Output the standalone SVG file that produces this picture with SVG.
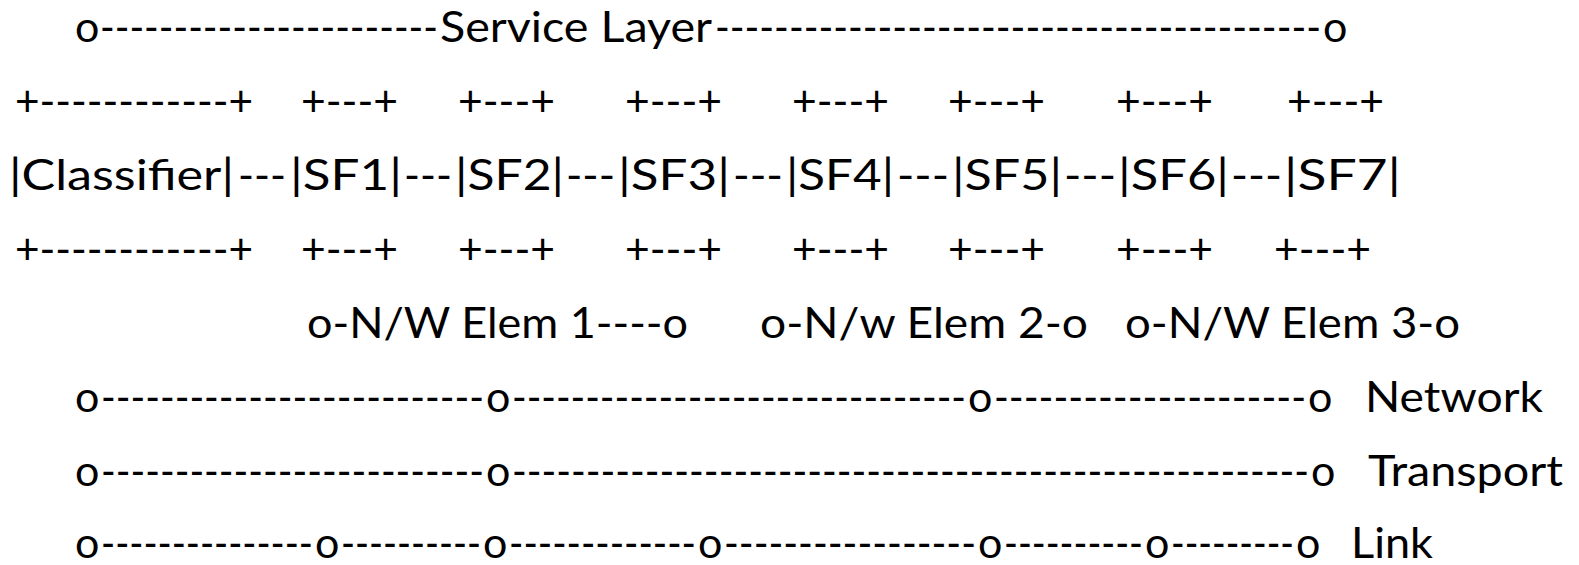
<svg xmlns="http://www.w3.org/2000/svg" width="1579" height="565" viewBox="0 0 1579 565">
<style>
.t{font-family:Lato,"Liberation Sans",sans-serif;font-size:43px;fill:#000}
</style>
<rect width="1579" height="565" fill="#fff"/>
<g id="service-layer">
<text class="t" y="42"><tspan x="75">o</tspan><tspan x="100" textLength="338" lengthAdjust="spacingAndGlyphs">-----------------------</tspan><tspan x="440" textLength="272" lengthAdjust="spacingAndGlyphs">Service Layer</tspan><tspan x="715" textLength="606" lengthAdjust="spacingAndGlyphs">-----------------------------------------</tspan><tspan x="1323">o</tspan></text>
</g>
<g id="classifier">
<text class="t" x="15" y="116" textLength="238" lengthAdjust="spacingAndGlyphs">+------------+</text>
<text class="t" x="9" y="190" textLength="225" lengthAdjust="spacingAndGlyphs">|Classifier|</text>
<text class="t" x="15" y="264" textLength="238" lengthAdjust="spacingAndGlyphs">+------------+</text>
</g>
<g id="sf1">
<text class="t" x="301" y="116" textLength="97" lengthAdjust="spacingAndGlyphs">+---+</text>
<text class="t" x="290" y="190" textLength="112" lengthAdjust="spacingAndGlyphs">|SF1|</text>
<text class="t" x="301" y="264" textLength="97" lengthAdjust="spacingAndGlyphs">+---+</text>
</g>
<g id="sf2">
<text class="t" x="458" y="116" textLength="97" lengthAdjust="spacingAndGlyphs">+---+</text>
<text class="t" x="455" y="190" textLength="109" lengthAdjust="spacingAndGlyphs">|SF2|</text>
<text class="t" x="458" y="264" textLength="97" lengthAdjust="spacingAndGlyphs">+---+</text>
</g>
<g id="sf3">
<text class="t" x="625" y="116" textLength="97" lengthAdjust="spacingAndGlyphs">+---+</text>
<text class="t" x="618" y="190" textLength="112" lengthAdjust="spacingAndGlyphs">|SF3|</text>
<text class="t" x="625" y="264" textLength="97" lengthAdjust="spacingAndGlyphs">+---+</text>
</g>
<g id="sf4">
<text class="t" x="792" y="116" textLength="97" lengthAdjust="spacingAndGlyphs">+---+</text>
<text class="t" x="786" y="190" textLength="108" lengthAdjust="spacingAndGlyphs">|SF4|</text>
<text class="t" x="792" y="264" textLength="97" lengthAdjust="spacingAndGlyphs">+---+</text>
</g>
<g id="sf5">
<text class="t" x="948" y="116" textLength="97" lengthAdjust="spacingAndGlyphs">+---+</text>
<text class="t" x="952" y="190" textLength="110" lengthAdjust="spacingAndGlyphs">|SF5|</text>
<text class="t" x="948" y="264" textLength="97" lengthAdjust="spacingAndGlyphs">+---+</text>
</g>
<g id="sf6">
<text class="t" x="1116" y="116" textLength="97" lengthAdjust="spacingAndGlyphs">+---+</text>
<text class="t" x="1118" y="190" textLength="111" lengthAdjust="spacingAndGlyphs">|SF6|</text>
<text class="t" x="1116" y="264" textLength="97" lengthAdjust="spacingAndGlyphs">+---+</text>
</g>
<g id="sf7">
<text class="t" x="1287" y="116" textLength="97" lengthAdjust="spacingAndGlyphs">+---+</text>
<text class="t" x="1284" y="190" textLength="117" lengthAdjust="spacingAndGlyphs">|SF7|</text>
<text class="t" x="1274" y="264" textLength="97" lengthAdjust="spacingAndGlyphs">+---+</text>
</g>
<g id="connectors">
<text class="t" x="238" y="190" textLength="48" lengthAdjust="spacingAndGlyphs">---</text>
<text class="t" x="404" y="190" textLength="48" lengthAdjust="spacingAndGlyphs">---</text>
<text class="t" x="566" y="190" textLength="49" lengthAdjust="spacingAndGlyphs">---</text>
<text class="t" x="733" y="190" textLength="50" lengthAdjust="spacingAndGlyphs">---</text>
<text class="t" x="897" y="190" textLength="52" lengthAdjust="spacingAndGlyphs">---</text>
<text class="t" x="1064" y="190" textLength="52" lengthAdjust="spacingAndGlyphs">---</text>
<text class="t" x="1231" y="190" textLength="51" lengthAdjust="spacingAndGlyphs">---</text>
</g>
<g id="nw-elem-1">
<text class="t" x="307" y="338" textLength="381" lengthAdjust="spacingAndGlyphs">o-N/W Elem 1----o</text>
</g>
<g id="nw-elem-2">
<text class="t" x="760" y="338" textLength="328" lengthAdjust="spacingAndGlyphs">o-N/w Elem 2-o</text>
</g>
<g id="nw-elem-3">
<text class="t" x="1125" y="338" textLength="335" lengthAdjust="spacingAndGlyphs">o-N/W Elem 3-o</text>
</g>
<g id="network">
<text class="t" y="412"><tspan x="75">o</tspan><tspan x="101" textLength="383" lengthAdjust="spacingAndGlyphs">--------------------------</tspan><tspan x="486">o</tspan><tspan x="512" textLength="454" lengthAdjust="spacingAndGlyphs">-------------------------------</tspan><tspan x="968">o</tspan><tspan x="994" textLength="312" lengthAdjust="spacingAndGlyphs">---------------------</tspan><tspan x="1308">o</tspan></text>
<text class="t" x="1365" y="412" textLength="178" lengthAdjust="spacingAndGlyphs">Network</text>
</g>
<g id="transport">
<text class="t" y="486"><tspan x="75">o</tspan><tspan x="101" textLength="383" lengthAdjust="spacingAndGlyphs">--------------------------</tspan><tspan x="486">o</tspan><tspan x="512" textLength="797" lengthAdjust="spacingAndGlyphs">------------------------------------------------------</tspan><tspan x="1311">o</tspan></text>
<text class="t" x="1368" y="486" textLength="195" lengthAdjust="spacingAndGlyphs">Transport</text>
</g>
<g id="link">
<text class="t" y="558"><tspan x="75">o</tspan><tspan x="101" textLength="212" lengthAdjust="spacingAndGlyphs">---------------</tspan><tspan x="315">o</tspan><tspan x="341" textLength="140" lengthAdjust="spacingAndGlyphs">----------</tspan><tspan x="483">o</tspan><tspan x="509" textLength="187" lengthAdjust="spacingAndGlyphs">-------------</tspan><tspan x="698">o</tspan><tspan x="724" textLength="252" lengthAdjust="spacingAndGlyphs">-----------------</tspan><tspan x="978">o</tspan><tspan x="1004" textLength="139" lengthAdjust="spacingAndGlyphs">----------</tspan><tspan x="1145">o</tspan><tspan x="1171" textLength="123" lengthAdjust="spacingAndGlyphs">---------</tspan><tspan x="1296">o</tspan></text>
<text class="t" x="1351" y="558" textLength="82" lengthAdjust="spacingAndGlyphs">Link</text>
</g>
</svg>
